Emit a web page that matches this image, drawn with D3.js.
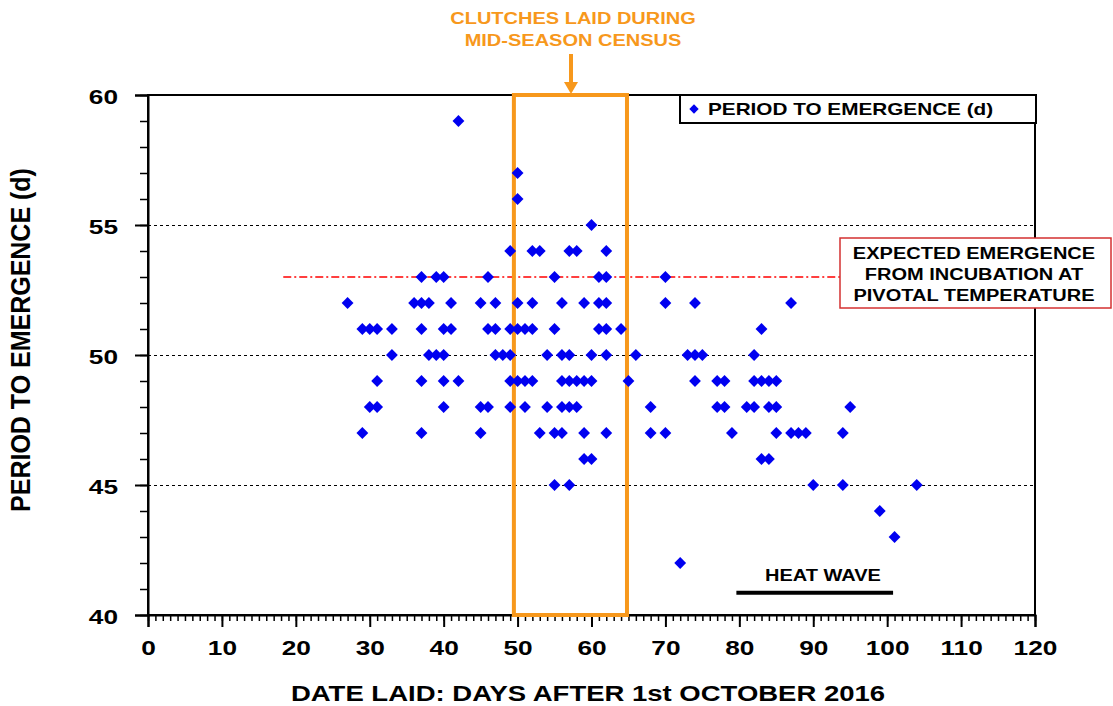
<!DOCTYPE html>
<html>
<head>
<meta charset="utf-8">
<script src="https://cdn.jsdelivr.net/npm/d3@7"></script>
<style>
  html, body { margin: 0; padding: 0; background: #fff; }
  svg { display: block; }
  text { font-family: "Liberation Sans", Arial, sans-serif; font-weight: bold; }
</style>
</head>
<body>
<svg id="chart" width="1113" height="706"></svg>
<script>
// Clutch data: day laid (days after 1 Oct 2016) and period to emergence (days)
const daysLaid = [
  42,
  50,
  50,
  60,
  49, 52, 53, 57, 58, 62,
  37, 39, 40, 46, 55, 61, 62, 70,
  27, 36, 37, 38, 41, 45, 47, 50, 52, 56, 59, 61, 62, 70, 74, 87,
  29, 30, 31, 33, 37, 40, 41, 46, 47, 49, 50, 51, 52, 55, 61, 62, 64, 83,
  33, 38, 39, 40, 47, 48, 49, 54, 56, 57, 60, 62, 66, 73, 74, 75, 82,
  31, 37, 40, 42, 49, 50, 51, 52, 56, 57, 58, 59, 60, 65, 74, 77, 78, 82, 83, 84, 85,
  30, 31, 40, 45, 46, 49, 51, 54, 56, 57, 58, 68, 77, 78, 81, 82, 84, 85, 95,
  29, 37, 45, 53, 55, 56, 59, 62, 68, 70, 79, 85, 87, 88, 89, 94,
  59, 60, 83, 84,
  55, 57, 90, 94, 104,
  99,
  101,
  72
];
const emergence = [
  59,
  57,
  56,
  55,
  54, 54, 54, 54, 54, 54,
  53, 53, 53, 53, 53, 53, 53, 53,
  52, 52, 52, 52, 52, 52, 52, 52, 52, 52, 52, 52, 52, 52, 52, 52,
  51, 51, 51, 51, 51, 51, 51, 51, 51, 51, 51, 51, 51, 51, 51, 51, 51, 51,
  50, 50, 50, 50, 50, 50, 50, 50, 50, 50, 50, 50, 50, 50, 50, 50, 50,
  49, 49, 49, 49, 49, 49, 49, 49, 49, 49, 49, 49, 49, 49, 49, 49, 49, 49, 49, 49, 49,
  48, 48, 48, 48, 48, 48, 48, 48, 48, 48, 48, 48, 48, 48, 48, 48, 48, 48, 48,
  47, 47, 47, 47, 47, 47, 47, 47, 47, 47, 47, 47, 47, 47, 47, 47,
  46, 46, 46, 46,
  45, 45, 45, 45, 45,
  44,
  43,
  42
];

const xTicks = [0, 10, 20, 30, 40, 50, 60, 70, 80, 90, 100, 110, 120];
const yTicks = [40, 45, 50, 55, 60];
const gridValues = [45, 50, 55];

// Reference features
const pivotalEmergence = 53;
const pivotalLineStart = 18.3;
const censusWindow = [49.5, 64.8];
const heatWave = [79.6, 100.8];
const heatWaveLevel = 40.86;

const svg = d3.select("#chart");
const plot = { left: 148, right: 1035, top: 95, bottom: 615 };
const SX = 1.25; // horizontal glyph stretch used by all labels

const x = d3.scaleLinear().domain([0, 120]).range([plot.left, plot.right]);
const y = d3.scaleLinear().domain([40, 60]).range([plot.bottom, plot.top]);

// Place a text element with wide glyphs by moving its position into a transform
function widen(sel, sx) {
  sel.each(function () {
    const t = d3.select(this);
    const tx = +t.attr("x") || 0;
    const ty = +t.attr("y") || 0;
    t.attr("x", 0).attr("y", 0).attr("transform", `translate(${tx},${ty}) scale(${sx},1)`);
  });
}

function label(txt, px, py, size, opts = {}) {
  return svg.append("text")
    .attr("transform", `translate(${px},${py}) scale(${SX},1)`)
    .attr("text-anchor", opts.anchor || "middle")
    .attr("font-size", size)
    .attr("fill", opts.fill || "#000")
    .text(txt);
}

// Dashed horizontal gridlines
svg.append("g").selectAll("line").data(gridValues).join("line")
  .attr("x1", plot.left).attr("x2", plot.right)
  .attr("y1", d => y(d) + 0.5).attr("y2", d => y(d) + 0.5)
  .attr("stroke", "#000").attr("stroke-width", 1).attr("stroke-dasharray", "3,3");

// Pivotal temperature reference line (dash-dot)
svg.append("line")
  .attr("x1", x(pivotalLineStart)).attr("x2", 840)
  .attr("y1", y(pivotalEmergence)).attr("y2", y(pivotalEmergence))
  .attr("stroke", "#ff0000").attr("stroke-width", 1.5)
  .attr("stroke-dasharray", "8,3,2,3");

// Plot frame
svg.append("rect")
  .attr("x", plot.left).attr("y", plot.top)
  .attr("width", plot.right - plot.left).attr("height", plot.bottom - plot.top)
  .attr("fill", "none").attr("stroke", "#000").attr("stroke-width", 2);

// Y axis: minor ticks every day, major every 5
svg.append("g").attr("transform", `translate(${plot.left},0)`)
  .call(d3.axisLeft(y).tickValues(d3.range(40, 61)).tickSize(8).tickFormat(""))
  .call(g => g.select(".domain").remove())
  .call(g => g.selectAll("line").attr("stroke-width", 1.5));
const yAxis = svg.append("g").attr("transform", `translate(${plot.left},0)`)
  .call(d3.axisLeft(y).tickValues(yTicks).tickSize(13).tickPadding(17).tickFormat(d3.format("d")))
  .call(g => g.select(".domain").attr("stroke-width", 2))
  .call(g => g.selectAll("line").attr("stroke-width", 2));
yAxis.selectAll("text").attr("font-size", 21).attr("font-family", "Liberation Sans, Arial, sans-serif")
  .attr("font-weight", "bold").attr("fill", "#000").attr("dy", null)
  .attr("y", 8);
widen(yAxis.selectAll("text"), SX);

// X axis: minor ticks every day, major every 10
svg.append("g").attr("transform", `translate(0,${plot.bottom})`)
  .call(d3.axisBottom(x).tickValues(d3.range(0, 121)).tickSize(6).tickFormat(""))
  .call(g => g.select(".domain").remove())
  .call(g => g.selectAll("line").attr("stroke-width", 1.5));
const xAxis = svg.append("g").attr("transform", `translate(0,${plot.bottom})`)
  .call(d3.axisBottom(x).tickValues(xTicks).tickSize(12).tickPadding(14).tickFormat(d3.format("d")))
  .call(g => g.select(".domain").attr("stroke-width", 2))
  .call(g => g.selectAll("line").attr("stroke-width", 2));
xAxis.selectAll("text").attr("font-size", 21).attr("font-family", "Liberation Sans, Arial, sans-serif")
  .attr("font-weight", "bold").attr("fill", "#000").attr("dy", null)
  .attr("y", 40);
widen(xAxis.selectAll("text"), SX);

// Mid-season census window
svg.append("rect")
  .attr("x", x(censusWindow[0])).attr("y", y(60))
  .attr("width", x(censusWindow[1]) - x(censusWindow[0]))
  .attr("height", y(40) - y(60))
  .attr("fill", "none").attr("stroke", "#f7981c").attr("stroke-width", 4);

// Data points (diamonds)
const pts = daysLaid.map((d, i) => ({ day: d, period: emergence[i] }));
const diamond = d3.symbol().type(d3.symbolSquare).size(70);
svg.append("g").selectAll("path").data(pts).join("path")
  .attr("d", diamond)
  .attr("transform", d => `translate(${x(d.day)},${y(d.period)}) rotate(45)`)
  .attr("fill", "#0000f0");

// Legend
svg.append("rect").attr("x", 680).attr("y", 95).attr("width", 356).attr("height", 28)
  .attr("fill", "#fff").attr("stroke", "#000").attr("stroke-width", 2);
svg.append("path").attr("d", d3.symbol().type(d3.symbolSquare).size(44))
  .attr("transform", "translate(694,109) rotate(45)").attr("fill", "#0000f0");
label("PERIOD TO EMERGENCE (d)", 708, 115, 16.6, { anchor: "start" });

// Pivotal temperature note
svg.append("rect").attr("x", 840).attr("y", 238).attr("width", 271).attr("height", 70)
  .attr("fill", "#fff").attr("stroke", "#d43030").attr("stroke-width", 1.5);
["EXPECTED EMERGENCE", "FROM INCUBATION AT", "PIVOTAL TEMPERATURE"].forEach((t, i) => {
  label(t, 974, 259 + i * 21, 16);
});

// Census annotation and arrow
label("CLUTCHES LAID DURING", 573, 24, 16, { fill: "#f7981c" });
label("MID-SEASON CENSUS", 573, 46, 16, { fill: "#f7981c" });
svg.append("line").attr("x1", 571).attr("x2", 571).attr("y1", 54).attr("y2", 84)
  .attr("stroke", "#f7981c").attr("stroke-width", 4);
svg.append("path").attr("d", "M564,82 L578,82 L571,94 Z").attr("fill", "#f7981c");

// Heat wave marker
svg.append("line")
  .attr("x1", x(heatWave[0])).attr("x2", x(heatWave[1]))
  .attr("y1", y(heatWaveLevel)).attr("y2", y(heatWaveLevel))
  .attr("stroke", "#000").attr("stroke-width", 4);
label("HEAT WAVE", 823, 581, 16);

// Axis titles
label("DATE LAID: DAYS AFTER 1st OCTOBER 2016", 588, 701, 22);
svg.append("text")
  .attr("transform", "translate(30,340) rotate(-90) scale(1,1.1)")
  .attr("text-anchor", "middle").attr("font-size", 25).attr("fill", "#000")
  .text("PERIOD TO EMERGENCE (d)");
</script>
</body>
</html>
